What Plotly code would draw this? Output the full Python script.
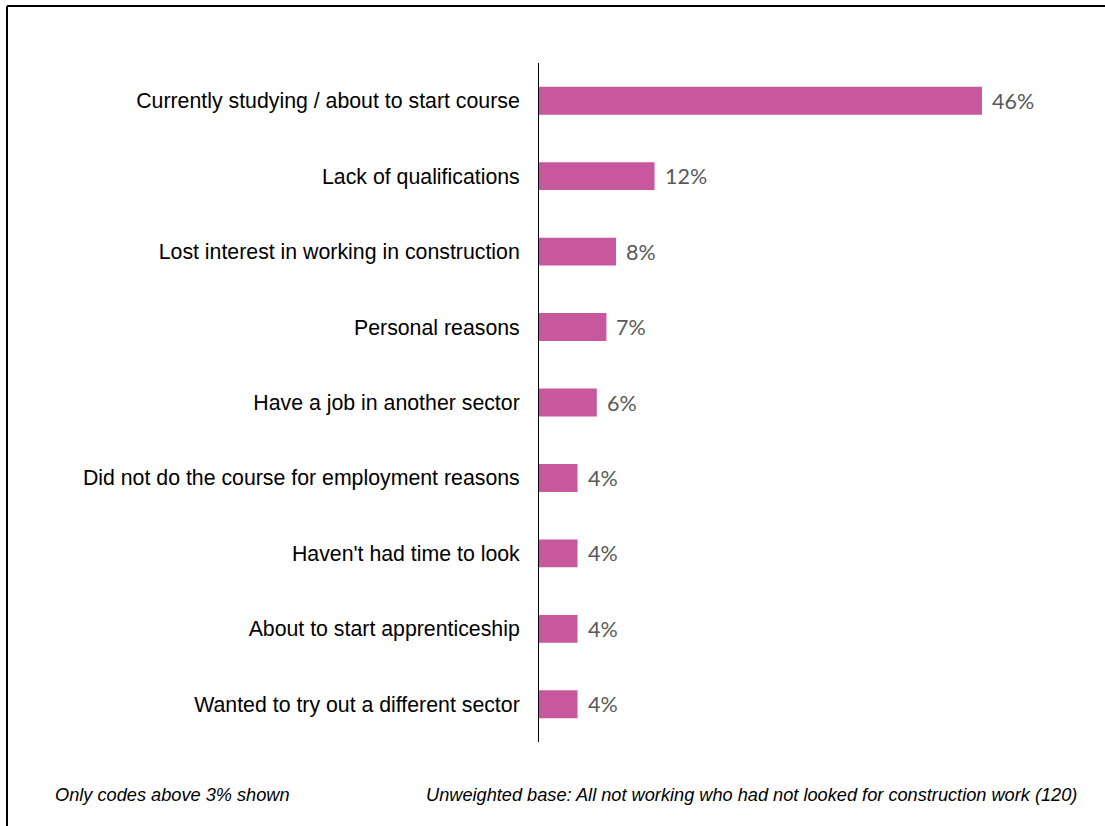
import plotly.graph_objects as go

# Reasons for not looking for construction work (% of respondents)
reasons = [
    "Currently studying / about to start course",
    "Lack of qualifications",
    "Lost interest in working in construction",
    "Personal reasons",
    "Have a job in another sector",
    "Did not do the course for employment reasons",
    "Haven't had time to look",
    "About to start apprenticeship",
    "Wanted to try out a different sector",
]
percent = [46, 12, 8, 7, 6, 4, 4, 4, 4]

note_left = "Only codes above 3% shown"
note_right = "Unweighted base: All not working who had not looked for construction work (120)"

W, H = 1105, 826
ML, MR, MT, MB = 539, 36, 63, 84
PW, PH = W - ML - MR, H - MT - MB


def px_x(px):
    return (px - ML) / PW


def px_y(py):
    return (H - MB - py) / PH


BAR_COLOR = "#C8589E"

fig = go.Figure(
    go.Bar(
        x=percent,
        y=reasons,
        orientation="h",
        marker=dict(color=BAR_COLOR, line=dict(width=0)),
        width=0.37,
        hoverinfo="x+y",
    )
)

annotations = [
    dict(
        x=v, y=r, xref="x", yref="y",
        text=f"{v}%", showarrow=False,
        xanchor="left", yanchor="middle", xshift=8,
        font=dict(family="Lato, Open Sans, sans-serif", size=21.5, color="#595959"),
    )
    for r, v in zip(reasons, percent)
]

foot_font = dict(family="Liberation Sans, Arial, sans-serif", size=18.2, color="#000000")
annotations += [
    dict(x=px_x(53), y=px_y(795), xref="paper", yref="paper", text=f"<i>{note_left}</i>",
         showarrow=False, xanchor="left", yanchor="middle", font=foot_font),
    dict(x=px_x(424), y=px_y(795), xref="paper", yref="paper", text=f"<i>{note_right}</i>",
         showarrow=False, xanchor="left", yanchor="middle", font=foot_font),
]

# Frame lines along the top and left edges
shapes = [
    dict(type="line", xref="paper", yref="paper",
         x0=px_x(7), x1=px_x(W + 5), y0=px_y(6), y1=px_y(6),
         line=dict(color="black", width=2)),
    dict(type="line", xref="paper", yref="paper",
         x0=px_x(7), x1=px_x(7), y0=px_y(6), y1=px_y(H + 5),
         line=dict(color="black", width=2)),
]

fig.update_layout(
    width=W, height=H,
    margin=dict(l=ML, r=MR, t=MT, b=MB),
    paper_bgcolor="white", plot_bgcolor="white",
    showlegend=False,
    annotations=annotations,
    shapes=shapes,
    xaxis=dict(range=[0, PW / 9.63], visible=False, fixedrange=True),
    yaxis=dict(
        autorange="reversed",
        showline=True, linecolor="black", linewidth=1,
        ticks="", showgrid=False, zeroline=False,
        ticklabelstandoff=14,
        tickfont=dict(family="Liberation Sans, Arial, sans-serif", size=21.3, color="#000000"),
    ),
)

fig.write_html("out.html")
